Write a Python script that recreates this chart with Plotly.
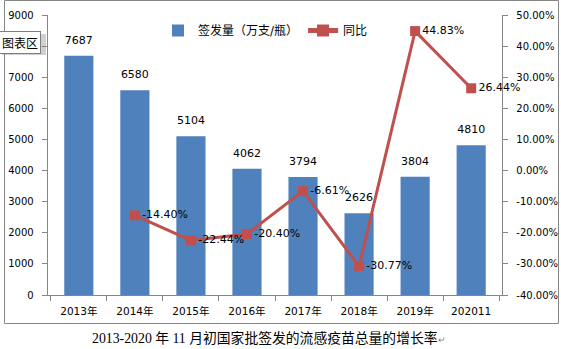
import plotly.graph_objects as go

categories = ["2013年", "2014年", "2015年", "2016年", "2017年", "2018年", "2019年", "202011"]
issued = [7687, 6580, 5104, 4062, 3794, 2626, 3804, 4810]
yoy = [None, -14.40, -22.44, -20.40, -6.61, -30.77, 44.83, 26.44]
left_ticks = [0, 1000, 2000, 3000, 4000, 5000, 6000, 7000, 8000, 9000]
right_ticks = [-40, -30, -20, -10, 0, 10, 20, 30, 40, 50]

BAR = "#4F81BD"
LINE = "#C0504D"
AXIS = "#868686"
FONT = "DejaVu Sans, Noto Sans CJK SC, sans-serif"
NB = "\u00a0"

fig = go.Figure()
fig.add_trace(go.Bar(
    x=categories, y=issued, name="签发量（万支/瓶）",
    marker=dict(color=BAR, line=dict(width=0)),
))
fig.add_trace(go.Scatter(
    x=categories, y=issued, mode="markers+text", showlegend=False, hoverinfo="skip",
    marker=dict(size=13, color="rgba(0,0,0,0)"),
    text=[str(v) for v in issued], textposition="top center",
    textfont=dict(family=FONT, size=11, color="#000000"),
    cliponaxis=False,
))
fig.add_trace(go.Scatter(
    x=categories, y=yoy, name="同比", yaxis="y2",
    mode="lines+markers+text",
    line=dict(color=LINE, width=3),
    marker=dict(symbol="square", size=10, color=LINE),
    text=[("" if v is None else f"{v:.2f}%") for v in yoy],
    textposition="middle right",
    textfont=dict(family=FONT, size=11, color="#000000"),
    cliponaxis=False,
))

L, R, T, B = 48, 59, 15, 54
W, H = 561, 349
pw = W - L - R
ph = H - T - B

def px(xp):
    return (xp - L) / pw

def py(yp):
    return (H - B - yp) / ph

fig.update_layout(
    width=W, height=H,
    margin=dict(l=L, r=R, t=T, b=B, pad=0, autoexpand=False),
    paper_bgcolor="white", plot_bgcolor="white",
    font=dict(family=FONT, size=10, color="#000000"),
    bargap=0.48,
    showlegend=True,
    legend=dict(orientation="h", x=px(158), y=py(16), xanchor="left", yanchor="top",
                font=dict(family=FONT, size=12, color="#000000"),
                bgcolor="rgba(0,0,0,0)", itemsizing="constant", traceorder="normal"),
    xaxis=dict(type="category", automargin=False,
               showline=True, linecolor=AXIS, linewidth=1,
               ticks="outside", ticklen=5, tickcolor=AXIS, tickson="boundaries",
               ticklabelstandoff=6,
               showgrid=False, zeroline=False,
               tickfont=dict(family=FONT, size=10.5, color="#000000")),
    yaxis=dict(range=[0, 9000], tickvals=left_ticks, automargin=False,
               ticktext=[str(v) + NB * 2 for v in left_ticks],
               showline=True, linecolor=AXIS, linewidth=1,
               ticks="outside", ticklen=5, tickcolor=AXIS,
               showgrid=False, zeroline=False,
               tickfont=dict(family=FONT, size=10, color="#000000")),
    yaxis2=dict(range=[-40, 50], overlaying="y", side="right", automargin=False,
                tickvals=right_ticks, ticktext=[NB * 2 + f"{v:.2f}%" for v in right_ticks],
                showline=True, linecolor=AXIS, linewidth=1,
                ticks="outside", ticklen=5, tickcolor=AXIS,
                showgrid=False, zeroline=False,
                tickfont=dict(family=FONT, size=10, color="#000000")),
    shapes=[
        dict(type="rect", xref="paper", yref="paper",
             x0=px(4.5), x1=px(558.5), y0=py(323.5), y1=py(0.5),
             line=dict(color=AXIS, width=1), fillcolor="rgba(0,0,0,0)", layer="below"),
        dict(type="rect", xref="paper", yref="paper",
             x0=px(2), x1=px(46), y0=py(55), y1=py(34),
             line=dict(width=0), fillcolor="rgba(120,120,120,0.35)", layer="above"),
    ],
    annotations=[
        dict(text="图表区", xref="paper", yref="paper", x=px(-1), y=py(31),
             xanchor="left", yanchor="top", showarrow=False,
             font=dict(family="Noto Sans CJK SC, sans-serif", size=12, color="#000000"),
             bgcolor="white", bordercolor="#7f7f7f", borderwidth=1, borderpad=2),
        dict(text="2013-2020 年 11 月初国家批签发的流感疫苗总量的增长率<span style='font-size:9px;color:#888'>↵</span>",
             xref="paper", yref="paper", x=px(90), y=py(338), xanchor="left", yanchor="middle",
             showarrow=False,
             font=dict(family="Liberation Serif, Noto Sans CJK SC, serif", size=13.8, color="#000000")),
    ],
)

fig.write_html("out.html")
